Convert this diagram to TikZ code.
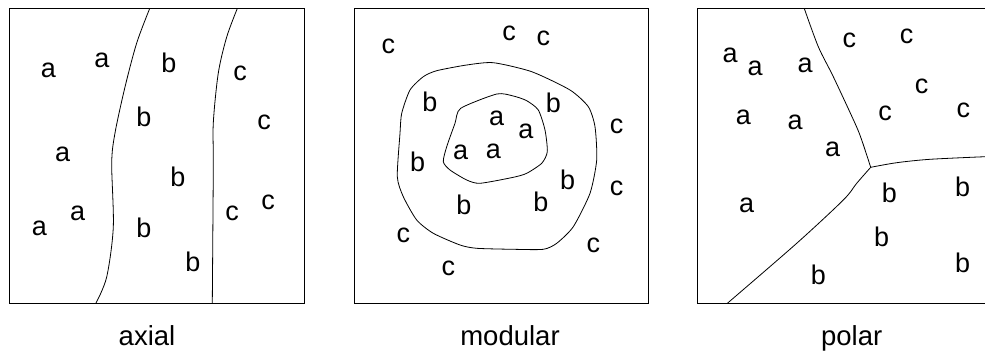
\documentclass[tikz,border=0pt]{standalone}
\usepackage{fontspec}
\setmainfont{Liberation Sans}
\begin{document}
\begin{tikzpicture}[x=1pt,y=-1pt,
  lt/.style={inner sep=0pt,font=\fontsize{27}{29}\selectfont},
  captext/.style={inner sep=0pt,anchor=base,font=\fontsize{27.5}{29}\selectfont},
  frame/.style={line width=1pt},
  bound/.style={line width=0.8pt}]
\useasboundingbox (0,0) rectangle (985,351);
% ---------- axial ----------
\draw[frame] (9.5,8.5) rectangle (304,303);
\draw[bound] plot[smooth,tension=0.5] coordinates {(149.7,8.5) (136.7,43) (125,87) (115,133) (111.7,163) (113.3,227) (106.7,277) (96,303)};
\draw[bound] plot[smooth,tension=0.5] coordinates {(237.3,8.5) (226.7,37) (218.3,73) (213.3,123) (213.3,167) (212.3,303)};
\node[lt] (x1) at (48.3,70) {a};
\node[lt] (x2) at (102,60) {a};
\node[lt] (x3) at (169,63) {b};
\node[lt] (x4) at (240,73) {c};
\node[lt] (x5) at (144,117) {b};
\node[lt] (x6) at (264,122) {c};
\node[lt] (x7) at (62.7,154) {a};
\node[lt] (x8) at (178,177) {b};
\node[lt] (x9) at (77.7,213) {a};
\node[lt] (x10) at (39.3,228) {a};
\node[lt] (x11) at (144,228) {b};
\node[lt] (x12) at (232,213) {c};
\node[lt] (x13) at (268,202) {c};
\node[lt] (x14) at (193,262) {b};
\node[captext] (lax) at (147,345) {axial};
% ---------- modular ----------
\draw[frame] (354.3,8.5) rectangle (648.3,303);
\draw[bound] plot[smooth cycle,tension=0.4] coordinates {(436.7,70.7) (466.7,65) (493.3,62.7) (531.7,71.7) (570,90) (588.3,106.7) (595,126.7) (596.7,160) (590,193.3) (573.3,226.7) (556.7,243.3) (543.3,249.3) (513.3,249.3) (476.7,248.3) (460,245) (433.3,233.3) (416.7,220) (403.3,196.7) (397.3,176.7) (400,133.3) (401.7,113.3) (410,90) (423.3,76.7)};
\draw[bound] plot[smooth cycle,tension=0.4] coordinates {(460.7,108.3) (496.7,94) (513.3,96) (526.7,100.7) (538.3,110) (545,130) (547.3,151.7) (541.7,163.3) (526.7,173.3) (513.3,177.3) (480,183.3) (466.7,180) (450,170) (443.3,161.7) (446.7,146.7) (455,123.3)};
\node[lt] (m1) at (388.3,46.7) {c};
\node[lt] (m2) at (509,33.3) {c};
\node[lt] (m3) at (543.3,38.3) {c};
\node[lt] (m4) at (430,101.7) {b};
\node[lt] (m5) at (553.3,103.3) {b};
\node[lt] (m6) at (496.7,118.3) {a};
\node[lt] (m7) at (526,131.7) {a};
\node[lt] (m8) at (616.7,126) {c};
\node[lt] (m9) at (460.7,152.7) {a};
\node[lt] (m10) at (493.3,151.7) {a};
\node[lt] (m11) at (417.7,161.7) {b};
\node[lt] (m12) at (567.7,180) {b};
\node[lt] (m13) at (616.7,188.3) {c};
\node[lt] (m14) at (464,205) {b};
\node[lt] (m15) at (541,201.7) {b};
\node[lt] (m16) at (403.3,235) {c};
\node[lt] (m17) at (593.3,245) {c};
\node[lt] (m18) at (448.3,268.3) {c};
\node[captext] (lmod) at (510,345) {modular};
% ---------- polar ----------
\draw[frame] (985,8.5) -- (697.7,8.5) -- (697.7,303) -- (985,303);
\draw[bound] plot[smooth,tension=0.5] coordinates {(804.3,8.5) (818.3,46.7) (833.3,76.7) (855,123.3) (861.7,140) (870.7,167.3)};
\draw[bound] plot[smooth,tension=0.5] coordinates {(870.7,167.3) (896.7,162.7) (930,159.3) (985,156.7)};
\draw[bound] plot[smooth,tension=0.5] coordinates {(870.7,167.3) (856.7,183.3) (843.3,200) (796.7,243.3) (727.7,303)};
\node[lt] (p1) at (730,55) {a};
\node[lt] (p2) at (755,68.3) {a};
\node[lt] (p3) at (805,65) {a};
\node[lt] (p4) at (849.3,40) {c};
\node[lt] (p5) at (906.7,36.7) {c};
\node[lt] (p6) at (921.7,86) {c};
\node[lt] (p7) at (743.3,117.3) {a};
\node[lt] (p8) at (795,122.7) {a};
\node[lt] (p9) at (885,113.3) {c};
\node[lt] (p10) at (963.3,110) {c};
\node[lt] (p11) at (832.7,149.3) {a};
\node[lt] (p12) at (746.7,205) {a};
\node[lt] (p13) at (889.3,193.3) {b};
\node[lt] (p14) at (962.7,186.7) {b};
\node[lt] (p15) at (881.7,236.7) {b};
\node[lt] (p16) at (962.7,263.3) {b};
\node[lt] (p17) at (818.3,275) {b};
\node[captext] (lpol) at (851.7,345) {polar};
\end{tikzpicture}
\end{document}
